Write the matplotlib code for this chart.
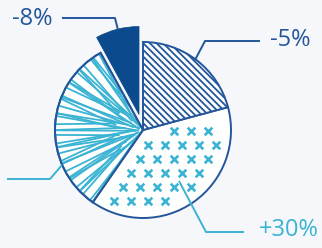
import numpy as np
import matplotlib
matplotlib.use("Agg")
import matplotlib.pyplot as plt
from matplotlib.patches import Wedge

# ---- data ----
segments = ["Dark", "Light lines", "Crosses", "Hatched"]
shares = [8.0, 32.3, 38.8, 20.8]          # slice sizes (percent of pie)
labels = ["-8%", "", "+30%", "-5%"]        # change labels

NAVY = "#23569a"
DARK = "#0b4a8c"
CYAN = "#3bb3d3"
BG = "#f6f7fa"

W, H = 322, 248
plt.rcParams["hatch.linewidth"] = 1.3
fig = plt.figure(figsize=(W / 100, H / 100), dpi=100, facecolor=BG)
ax = fig.add_axes([0, 0, 1, 1])

cx, cy, R = 143, H - 130, 88
wedges, _ = ax.pie(shares, startangle=90, counterclock=True,
                   center=(cx, cy), radius=R, explode=[16, 0, 0, 0],
                   frame=True)
ax.set_xlim(0, W)
ax.set_ylim(0, H)
ax.set_aspect("equal")
ax.axis("off")

# styles
wedges[0].set_facecolor(DARK)
wedges[0].set_edgecolor(DARK)
wedges[0].set_linewidth(0.5)
for w in wedges[1:]:
    w.set_facecolor("white")
    w.set_edgecolor(NAVY)
    w.set_linewidth(1.4)
wedges[3].set_hatch("\\\\\\\\\\")

# sketchy, nearly radial strokes in light-lines wedge
wl = wedges[1]
t1, t2 = wl.theta1, wl.theta2
n = 40
ends = np.linspace(t1 + 1, t2 - 1, n)
for i, a in enumerate(ends):
    k = i * 2.399
    rs = 4 + 26 * (0.5 + 0.5 * np.sin(k))
    sa = np.deg2rad(a + 9 * np.cos(k * 1.3))
    x0 = cx + rs * np.cos(sa)
    y0 = cy + rs * np.sin(sa)
    ea = np.deg2rad(a + 2 * np.sin(k * 0.7))
    x1 = cx + (R + 6) * np.cos(ea)
    y1 = cy + (R + 6) * np.sin(ea)
    ln, = ax.plot([x0, x1], [y0, y1], color=CYAN, lw=1.3, solid_capstyle="round")
    ln.set_clip_path(wl)
ax.add_patch(Wedge((cx, cy), R, t1, t2, fill=False,
                   edgecolor=NAVY, lw=1.4, zorder=5))

# crosses in crosses wedge
wc = wedges[2]
c1, c2 = wc.theta1, wc.theta2
pts = []
step_x, step_y = 17, 14
for j, yy in enumerate(np.arange(cy - R + 3, cy + R, step_y)):
    shift = (j % 2) * step_x / 2
    for xx in np.arange(cx - R + shift, cx + R, step_x):
        dx, dy = xx - cx, yy - cy
        r = np.hypot(dx, dy)
        if r > R - 9 or r < 14:
            continue
        ang = np.degrees(np.arctan2(dy, dx)) % 360
        lo, hi = c1 % 360, c2 % 360
        inside = (ang >= lo or ang <= hi) if lo > hi else (lo <= ang <= hi)
        if not inside:
            continue
        ok = True
        for e in (c1, c2):
            ea = np.deg2rad(e)
            if abs(dx * np.sin(ea) - dy * np.cos(ea)) < 8:
                ok = False
        if ok:
            pts.append((xx, yy))
pts = np.array(pts)
ax.scatter(pts[:, 0], pts[:, 1], marker="x", s=30, color=CYAN, linewidths=1.9, zorder=4)

# leader lines (pixel coords from top)
def L(xs, ys, color):
    ax.plot(xs, [H - y for y in ys], color=color, lw=1.4, solid_capstyle="butt", zorder=6)

L([62, 115, 118], [18, 18, 30], NAVY)
L([195, 205, 260], [60, 41, 41], NAVY)
L([179, 206, 244], [181, 232, 232], CYAN)
L([7, 50, 62], [179, 179, 165], CYAN)

font = dict(family=["Open Sans", "DejaVu Sans"], fontsize=17)
ax.text(32, H - 19, labels[0], color=NAVY, ha="center", va="center", **font)
ax.text(290, H - 40, labels[3], color=NAVY, ha="center", va="center", **font)
ax.text(289, H - 230, labels[2], color=CYAN, ha="center", va="center", **font)

fig.savefig("out.png", dpi=100, facecolor=BG)
